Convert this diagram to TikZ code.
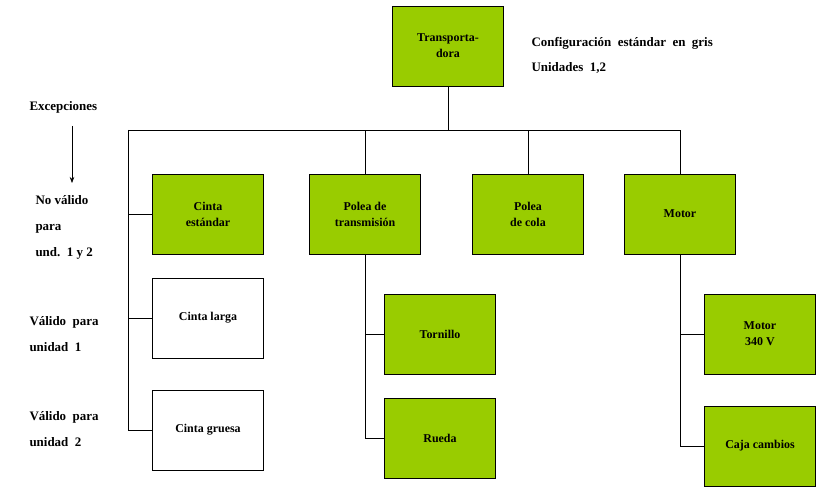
\documentclass[tikz,border=0pt]{standalone}
\usepackage{fontspec}
\setmainfont{Liberation Serif}
\usetikzlibrary{arrows.meta, positioning, calc}
\definecolor{partgreen}{HTML}{99CC00}

\begin{document}
\begin{tikzpicture}[
    x=1bp, y=-1bp,
    every node/.style={font=\bfseries},
    part/.style={
        rectangle,
        draw=black,
        fill=partgreen,
        line width=0.6pt,
        minimum height=80bp,
        minimum width=111bp,
        align=center,
        font=\fontsize{12}{16}\selectfont\bfseries
    },
    option/.style={part, fill=white},
    note/.style={
        anchor=west,
        align=left,
        font=\fontsize{13}{26}\selectfont\bfseries
    },
    link/.style={line width=0.6pt, draw=black}
]
\useasboundingbox (0,0) rectangle (829,503);

% Top node
\node[part] (transp) at (448,46) {Transporta-\\dora};
\node[note, font=\fontsize{13}{25}\selectfont\bfseries] (config) at (528,55) {Configuración\ \ estándar\ \ en\ \ gris\\Unidades\ \ 1,2};

% Main parts
\node[part] (cinta) at (208,214) {Cinta\\estándar};
\node[part] (poleat) at (365,214) {Polea de\\transmisión};
\node[part] (poleac) at (528,214) {Polea\\de cola};
\node[part] (motor) at (680,214) {Motor};

% Options below
\node[option] (larga) at (208,318) {Cinta larga};
\node[option] (gruesa) at (208,430) {Cinta gruesa};
\node[part] (tornillo) at (440,334) {Tornillo};
\node[part] (rueda) at (440,438) {Rueda};
\node[part] (motorv) at (760,334) {Motor\\340 V};
\node[part] (caja) at (760,446) {Caja cambios};

% Left notes
\node[note] (excep) at (26,107) {Excepciones};
\node[note] (novalido) at (32,227) {No válido\\para\\und.\ \ 1 y 2};
\node[note] (valido1) at (26,334) {Válido\ \ para\\unidad\ \ 1};
\node[note] (valido2) at (26,429) {Válido\ \ para\\unidad\ \ 2};
\coordinate (arrtop) at (72,126);
\coordinate (arrbot) at (72,183);
\draw[link, -{Stealth[length=6bp]}] (arrtop) -- (arrbot);

% Tree lines
\coordinate (bus) at (448,130);
\coordinate (busl) at (128,130);
\coordinate (busr) at (680,130);
\draw[link] (transp.south) -- (bus);
\draw[link] (busl) -- (busr);
\draw[link] (poleat.north) -- (poleat.north |- bus);
\draw[link] (poleac.north) -- (poleac.north |- bus);
\draw[link] (motor.north) -- (motor.north |- bus);
\draw[link] (busl) -- (busl |- gruesa) -- (gruesa.west);
\draw[link] (busl |- cinta) -- (cinta.west);
\draw[link] (busl |- larga) -- (larga.west);
\draw[link] (poleat.south) -- (poleat.south |- rueda) -- (rueda.west);
\draw[link] (poleat.south |- tornillo) -- (tornillo.west);
\draw[link] (motor.south) -- (motor.south |- caja) -- (caja.west);
\draw[link] (motor.south |- motorv) -- (motorv.west);

\end{tikzpicture}
\end{document}
